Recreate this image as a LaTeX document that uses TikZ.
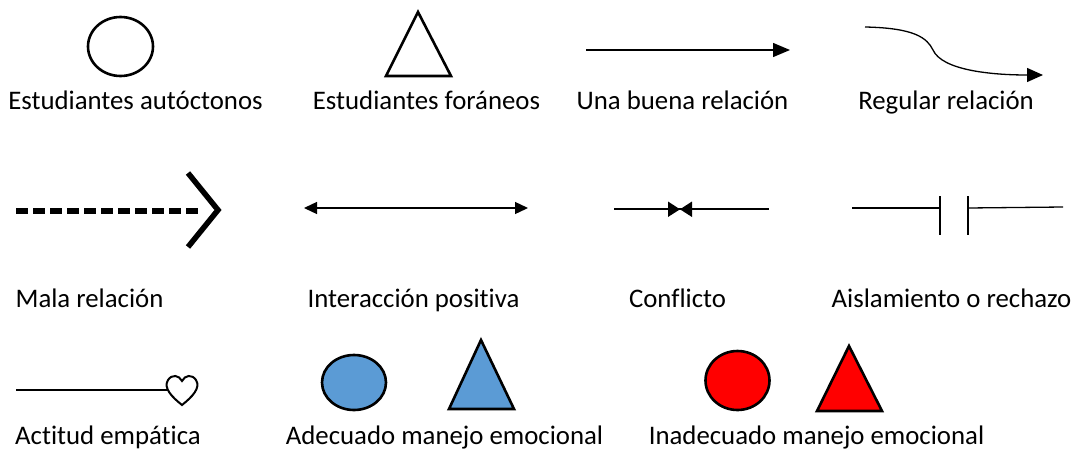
\documentclass[tikz,border=0pt]{standalone}
\usepackage{fontspec}
\setmainfont{Carlito}[RawFeature=-liga]
\usetikzlibrary{arrows.meta}
\definecolor{okblue}{HTML}{5B9BD5}
\definecolor{badred}{HTML}{FF0000}
\tikzset{
  lbl/.style={anchor=base, inner sep=0pt, font=\fontsize{26.8}{32}\selectfont},
  shp/.style={line width=2.6pt, line join=miter},
  thin/.style={line width=1.3pt},
}
\begin{document}
\begin{tikzpicture}[x=1pt, y=-1pt]
    \useasboundingbox (0,0) rectangle (1076,450);
    \draw[shp] (120.5,46.5) ellipse (32.5 and 29.5);
    \draw[shp] (418,12) -- (451,76) -- (386,76) -- cycle;
    \draw[thin, -{Triangle[length=17pt, width=14pt]}] (586,50) -- (790,50);
    \draw[thin, -{Triangle[length=16pt, width=14pt]}] (865,27) .. controls (915,28) and (927,38) .. (933,50) .. controls (942,70) and (990,75) .. (1043,75);
    \node[lbl] (autoc) at (135.5,109) {Estudiantes autóctonos};
    \node[lbl] (foran) at (426.5,109) {Estudiantes foráneos};
    \node[lbl] (buena) at (682.5,109) {Una buena relación};
    \node[lbl] (regul) at (946,109) {Regular relación};
    \draw[line width=5.5pt, dash pattern=on 12pt off 5pt] (16,211) -- (200,211);
    \draw[line width=5.5pt, line join=miter] (188,173) -- (218,210) -- (188,247);
    \draw[thin, {Triangle[length=13pt, width=12pt]}-{Triangle[length=13pt, width=12pt]}] (304,208) -- (528,208);
    \draw[thin] (614,209) -- (769,209);
    \fill (668,201.5) -- (668,217) -- (680,209.3) -- cycle;
    \fill (692,201.5) -- (692,217) -- (680,209.3) -- cycle;
    \draw[thin] (852,208) -- (940,208);
    \draw[thin] (940,196) -- (940,235);
    \draw[thin] (968,196) -- (968,235);
    \draw[thin] (968,208) -- (1063,207);
    \node[lbl] (mala) at (89.5,307) {Mala relación};
    \node[lbl] (inter) at (413.5,307) {Interacción positiva};
    \node[lbl] (confl) at (677.5,307) {Conflicto};
    \node[lbl] (aisla) at (951.5,307) {Aislamiento o rechazo};
    \draw[thin] (16,390) -- (168,390);
    \draw[line width=2pt] (182,405) .. controls (172,397) and (163,388) .. (168,380) .. controls (172,374) and (179,375) .. (182,381) .. controls (185,375) and (192,374) .. (196,380) .. controls (201,388) and (192,397) .. (182,405) -- cycle;
    \draw[shp, fill=okblue] (354,382.5) ellipse (32 and 27.5);
    \draw[shp, fill=okblue] (481,340) -- (514,409) -- (449,409) -- cycle;
    \draw[shp, fill=badred] (737.5,380.5) ellipse (32 and 29.5);
    \draw[shp, fill=badred] (849,346) -- (882,411) -- (817,411) -- cycle;
    \node[lbl] (empat) at (108,444) {Actitud empática};
    \node[lbl] (adec) at (444.5,444) {Adecuado manejo emocional};
    \node[lbl] (inadec) at (816.5,444) {Inadecuado manejo emocional};
\end{tikzpicture}
\end{document}
